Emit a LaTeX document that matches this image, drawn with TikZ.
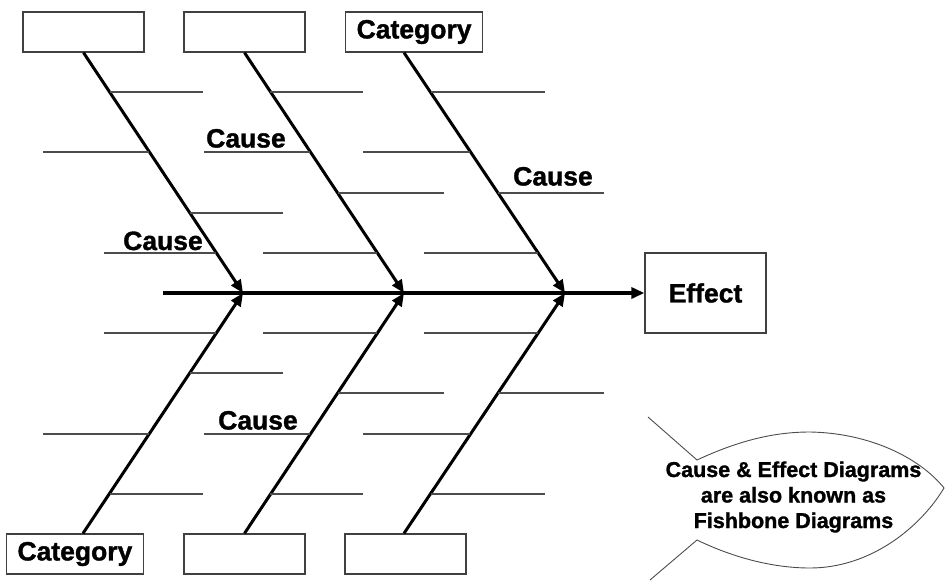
\documentclass[tikz,border=0pt]{standalone}
\usepackage{fontspec}
\setmainfont{Liberation Sans}[BoldFeatures={FakeBold=1.3}]
\usetikzlibrary{arrows.meta}
\begin{document}
\begin{tikzpicture}[x=1pt,y=-1pt]
  % 样式
  \tikzset{catbox/.style = {draw=black!75, line width=1.3pt, minimum width=121pt, minimum height=40pt, inner xsep=11pt, inner ysep=0pt, font=\fontsize{26.5}{30}\selectfont\bfseries}}
  \tikzset{bone/.style = {draw, line width=3pt, -{Triangle[length=13pt,width=11pt]}}}
  \tikzset{spine/.style = {draw, line width=3.5pt, -{Triangle[length=13pt,width=11pt]}}}
  \tikzset{causeline/.style = {draw=black!70, line width=1.3pt}}
  \tikzset{causelabel/.style = {anchor=base west, inner sep=0pt, font=\fontsize{26.5}{30}\selectfont\bfseries}}
  \tikzset{fish/.style = {draw=black!70, line width=0.9pt}}

  \useasboundingbox (0,0) rectangle (948,581);

  % 类别框
  \node[catbox] (catA) at (83.5,32) {};
  \node[catbox] (catB) at (244.5,32) {};
  \node[catbox, anchor=west] (catC) at (345,32) {Category};
  \node[catbox, anchor=east] (catD) at (144,554) {Category};
  \node[catbox] (catE) at (244.5,554) {};
  \node[catbox] (catF) at (405.5,554) {};
  \node[catbox, minimum height=80pt] (effect) at (705.5,293) {Effect};

  % 主干
  \coordinate (tail) at (163,293);
  \coordinate (j1) at (243,293);
  \coordinate (j2) at (404,293);
  \coordinate (j3) at (565,293);
  \draw[spine] (tail) -- (effect);

  % 鱼骨
  \draw[bone] (catA.south) -- (j1);
  \draw[bone] (catB.south) -- (j2);
  \draw[bone] ([xshift=59pt]catC.south west) -- (j3);
  \draw[bone] ([xshift=-61pt]catD.north east) -- (j1);
  \draw[bone] (catE.north) -- (j2);
  \draw[bone] ([xshift=-1.5pt]catF.north) -- (j3);

  % 原因线 (上下对称)
  \foreach \dy/\xa/\xb in {201/110/203, 141/43/149, 80/190/283, 40/104/216,
                           201/270/363, 141/204/310, 100/338/444, 40/263/377,
                           201/431/545, 141/363/470, 100/498/604, 40/424/538}
  {
    \draw[causeline] (\xa,{293-\dy}) -- (\xb,{293-\dy});
    \draw[causeline] (\xa,{293+\dy}) -- (\xb,{293+\dy});
  }

  % 原因标签
  \node[causelabel] (causeA) at (123,250) {Cause};
  \node[causelabel] (causeB) at (206,147.5) {Cause};
  \node[causelabel] (causeC) at (513,185.5) {Cause};
  \node[causelabel] (causeD) at (218,429.5) {Cause};

  % 鱼形注释
  \draw[fish] (648,417) -- (697,460)
    .. controls (740,440) and (775,432) .. (810,432)
    .. controls (870,433) and (920,458) .. (944,488)
    .. controls (920,528) and (870,568) .. (810,568)
    .. controls (770,568) and (730,556) .. (697,540)
    -- (650,580);
  \node[align=center, font=\fontsize{21.5}{25.5}\selectfont\bfseries] (note) at (793.5,497)
    {Cause \& Effect Diagrams\\are also known as\\Fishbone Diagrams};
\end{tikzpicture}
\end{document}
